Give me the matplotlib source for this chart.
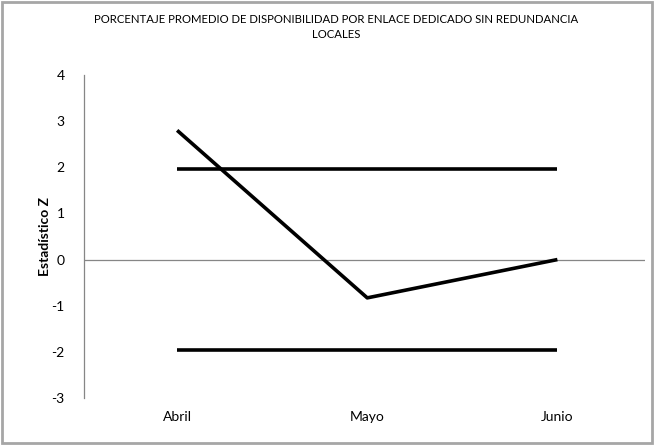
import matplotlib.pyplot as plt
from matplotlib.patches import Rectangle

meses = ["Abril", "Mayo", "Junio"]
estadistico_z = [2.8, -0.83, 0.0]
limite_superior = [1.96, 1.96, 1.96]
limite_inferior = [-1.96, -1.96, -1.96]
y_ticks = [-3, -2, -1, 0, 1, 2, 3, 4]

plt.rcParams['font.family'] = ['Lato', 'DejaVu Sans']

fig = plt.figure(figsize=(6.54, 4.45), dpi=100)
fig.patches.append(Rectangle((0.003, 0.004), 0.994, 0.991, transform=fig.transFigure,
                             fill=False, edgecolor="#a6a6a6", linewidth=2))

ax = fig.add_axes([0.1284, 0.1056, 0.8576, 0.7259])
x = list(range(len(meses)))
ax.plot(x, limite_superior, color="black", linewidth=2.6, solid_capstyle="butt")
ax.plot(x, limite_inferior, color="black", linewidth=2.6, solid_capstyle="butt")
ax.plot(x, estadistico_z, color="black", linewidth=2.6, solid_capstyle="butt")
ax.axhline(0, color="#868686", linewidth=0.9, zorder=0)

ax.set_xlim(-0.49, 2.46)
ax.set_ylim(-3, 4)
ax.set_yticks(y_ticks)
ax.set_yticklabels([str(t) for t in y_ticks], fontsize=10)
ax.set_xticks(x)
ax.set_xticklabels(meses, fontsize=10)
ax.tick_params(axis="both", length=0)
ax.tick_params(axis="y", pad=14)
ax.tick_params(axis="x", pad=9)

for s in ["top", "right", "bottom"]:
    ax.spines[s].set_visible(False)
ax.spines["left"].set_color("#868686")
ax.spines["left"].set_linewidth(0.9)

ax.set_ylabel("Estadístico Z", fontsize=10, fontweight="bold", labelpad=0)

fig.text(0.514, 0.94, "PORCENTAJE PROMEDIO DE DISPONIBILIDAD POR ENLACE DEDICADO SIN REDUNDANCIA\nLOCALES",
         ha="center", va="center", fontsize=8.2, linespacing=1.45)

fig.savefig("out.png", dpi=100)
